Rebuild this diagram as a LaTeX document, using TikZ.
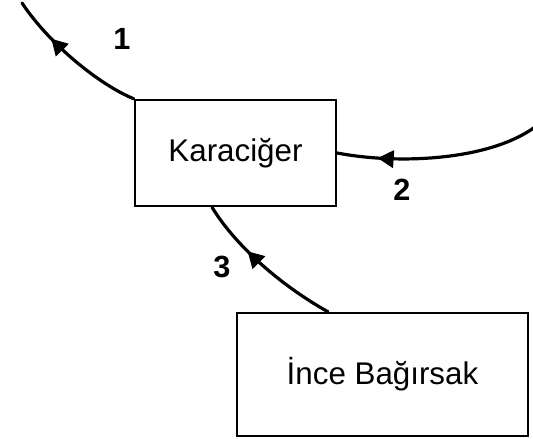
\documentclass[tikz,border=0pt]{standalone}
\usepackage{fontspec}
\setmainfont{Liberation Sans}
\usetikzlibrary{arrows.meta,decorations.markings}
\begin{document}
\begin{tikzpicture}[x=0.75pt,y=-0.75pt,
  organ/.style={draw=black,line width=1.8pt,fill=white,inner sep=0pt,
    font=\fontsize{23.5}{28}\selectfont},
  flow/.style={line width=2.4pt,line cap=round},
  midarrow/.style={postaction={decorate,decoration={markings,
    mark=at position #1 with {\arrow{Triangle[length=12pt,width=13pt]}}}}},
  numlabel/.style={font=\fontsize{23}{27}\bfseries\selectfont,inner sep=0pt}]
\useasboundingbox (0,0) rectangle (533,439);
\node[organ,minimum width=201*0.75pt,minimum height=106*0.75pt] (liver) at (235.5,153) {Karaciğer};
\node[organ,minimum width=291*0.75pt,minimum height=123*0.75pt] (gut) at (382.5,374.5) {İnce Bağırsak};
\coordinate (c1) at (22,3);
\coordinate (c2) at (535,127);
\draw[flow,midarrow=0.69] (liver.north west) .. controls (100,85) and (50,45) .. (c1);
\draw[flow,midarrow=0.8] (c2) .. controls (490,160) and (400,165) .. (liver.east);
\draw[flow,midarrow=0.64] ([xshift=-54.5*0.75pt]gut.north) .. controls (280,285) and (235,245) .. ([xshift=-23.5*0.75pt]liver.south);
\node[numlabel] (l1) at (122,39) {1};
\node[numlabel] (l2) at (402,190) {2};
\node[numlabel] (l3) at (222,267) {3};
\end{tikzpicture}
\end{document}
